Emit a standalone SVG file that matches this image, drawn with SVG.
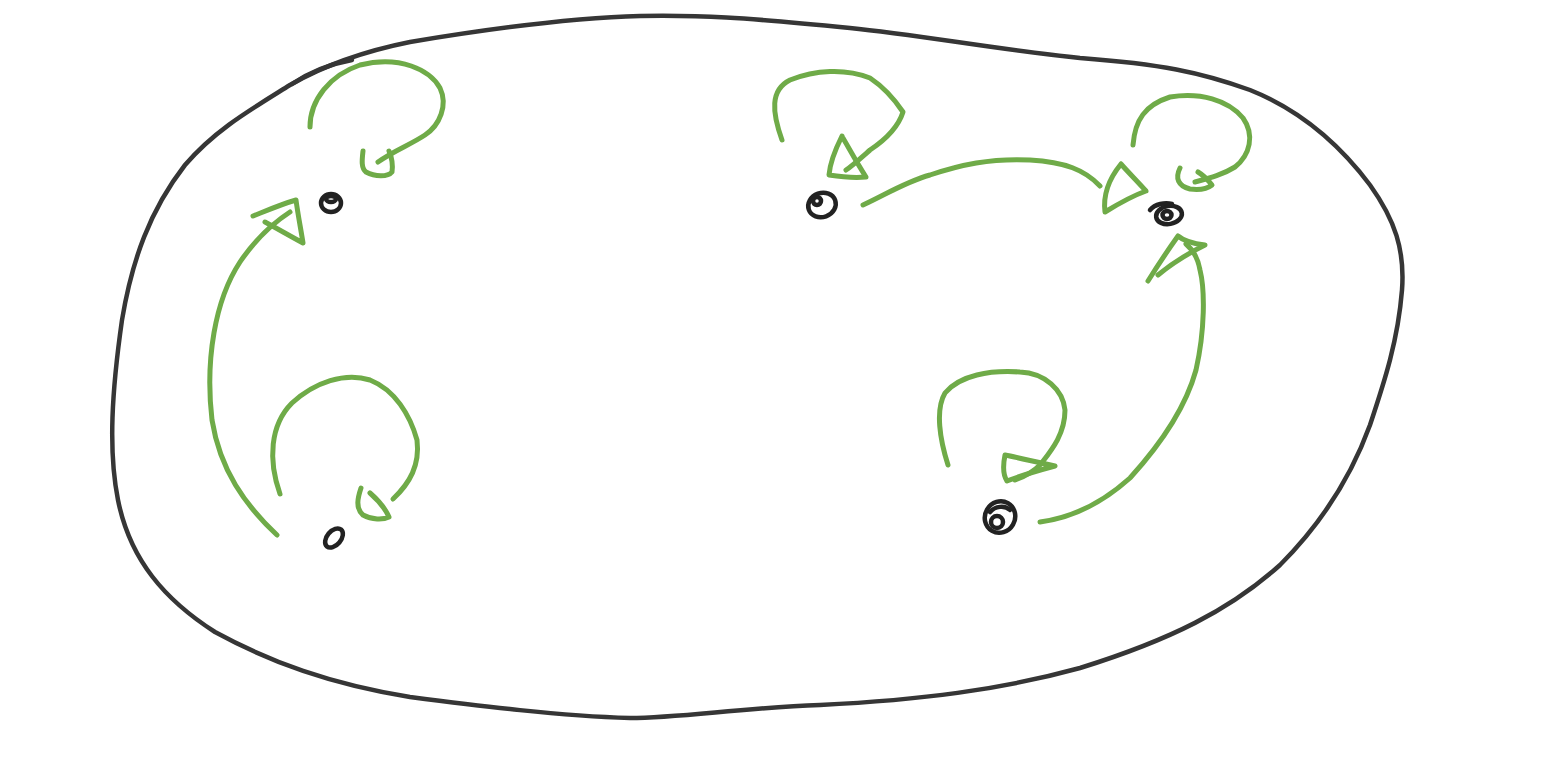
<svg xmlns="http://www.w3.org/2000/svg" width="1556" height="766" viewBox="0 0 1556 766">
<style>
.blob{fill:none;stroke:#363636;stroke-width:4.5;stroke-linecap:round;stroke-linejoin:round}
.node{fill:none;stroke:#222;stroke-width:4.5;stroke-linecap:round}
.edge{fill:none;stroke:#6fab48;stroke-width:5;stroke-linecap:round;stroke-linejoin:round}
</style>
<rect width="1556" height="766" fill="#fff"/>
<g id="region">
<path class="blob" d="M290,85 C330,62 370,50 410,42 C470,32 560,18 640,16 C700,15 740,17 850,28 C920,35 1000,50 1080,58 C1160,64 1200,72 1250,90 C1300,110 1340,145 1370,185 C1395,220 1405,250 1402,290 C1398,340 1385,380 1370,425 C1350,480 1320,525 1280,565 C1230,610 1170,640 1080,668 C1000,690 920,700 820,705 C740,708 680,718 630,718 C560,716 480,706 410,697 C330,684 270,662 215,632 C165,600 130,560 118,500 C108,450 112,390 122,320 C132,260 150,210 185,165 C215,130 250,110 290,85 Z"/>
<path class="blob" d="M292,84 C310,72 330,64 352,60" stroke-width="6.5"/>
</g>
<g id="node-a"><ellipse class="node" cx="331" cy="203" rx="10" ry="9"/><ellipse class="node" cx="331" cy="199" rx="5" ry="3" stroke-width="3"/></g>
<g id="node-b"><ellipse class="node" cx="334" cy="538" rx="7" ry="11" transform="rotate(40 334 538)"/></g>
<g id="node-c"><ellipse class="node" cx="822" cy="205" rx="14" ry="12" transform="rotate(-20 822 205)"/><ellipse class="node" cx="817" cy="201" rx="4" ry="4" stroke-width="3"/></g>
<g id="node-d"><ellipse class="node" cx="1169" cy="215" rx="13" ry="9" transform="rotate(-10 1169 215)"/><ellipse class="node" cx="1167" cy="215" rx="4.5" ry="4" stroke-width="3.5"/><path class="node" d="M1150,210 C1155,204 1165,202 1172,204"/></g>
<g id="node-e"><ellipse class="node" cx="1000" cy="517" rx="15" ry="16" transform="rotate(30 1000 517)"/><ellipse class="node" cx="997" cy="522" rx="6" ry="6" stroke-width="3.5"/><path class="node" d="M990,512 C995,506 1005,505 1010,510" stroke-width="3"/></g>
<g id="connectors">
<path class="edge" d="M310,127 C310,100 330,75 360,65 C400,55 430,70 440,88 C448,105 440,125 425,135 C410,145 395,150 378,162"/>
<path class="edge" d="M363,151 C362,160 361,168 366,172 C375,177 388,177 392,172 C393,165 392,158 389,151"/>
<path class="edge" d="M280,494 C268,460 270,425 292,403 C315,382 345,372 370,380 C395,390 410,415 417,440 C420,465 410,483 393,499"/>
<path class="edge" d="M361,488 C358,497 355,508 363,515 C372,520 383,520 389,517 C385,508 378,500 370,493"/>
<path class="edge" d="M277,535 C245,505 220,470 212,420 C205,360 215,300 240,262 C255,240 270,225 290,212"/>
<path class="edge" d="M253,216 C268,210 282,204 296,200 C298,215 301,230 303,243 C290,236 278,229 265,222"/>
<path class="edge" d="M782,140 C772,112 770,90 790,80 C815,70 845,68 870,78 C885,88 895,100 903,112 C898,128 885,140 870,150 C862,157 852,166 846,170"/>
<path class="edge" d="M842,136 C835,150 830,162 829,175 C842,177 855,178 866,177 C857,163 850,150 843,138"/>
<path class="edge" d="M863,205 C885,195 905,182 930,175 C960,165 990,158 1030,160 C1065,162 1085,170 1100,186"/>
<path class="edge" d="M1121,164 C1108,180 1103,196 1105,212 C1118,204 1132,196 1146,191 C1138,182 1128,172 1121,164"/>
<path class="edge" d="M1133,145 C1135,120 1145,105 1170,97 C1200,92 1228,100 1243,118 C1255,135 1250,155 1235,167 C1222,175 1210,178 1195,182"/>
<path class="edge" d="M1180,168 C1175,178 1178,186 1190,189 C1198,190 1207,189 1212,185 C1208,180 1203,175 1198,172"/>
<path class="edge" d="M1040,522 C1070,518 1100,505 1130,478 C1160,445 1185,410 1196,370 C1205,330 1205,290 1200,270 C1198,258 1193,250 1186,244"/>
<path class="edge" d="M1148,281 C1158,265 1168,250 1178,236 C1185,242 1196,244 1205,245 C1185,255 1170,265 1158,275"/>
<path class="edge" d="M948,465 C940,440 935,410 945,393 C960,375 990,370 1020,372 C1045,373 1063,390 1065,410 C1065,435 1050,452 1040,465 C1030,475 1020,478 1015,480"/>
<path class="edge" d="M1005,455 C1003,465 1003,475 1007,481 C1020,476 1040,470 1055,466 C1040,463 1020,458 1005,455"/>
</g>
</svg>
